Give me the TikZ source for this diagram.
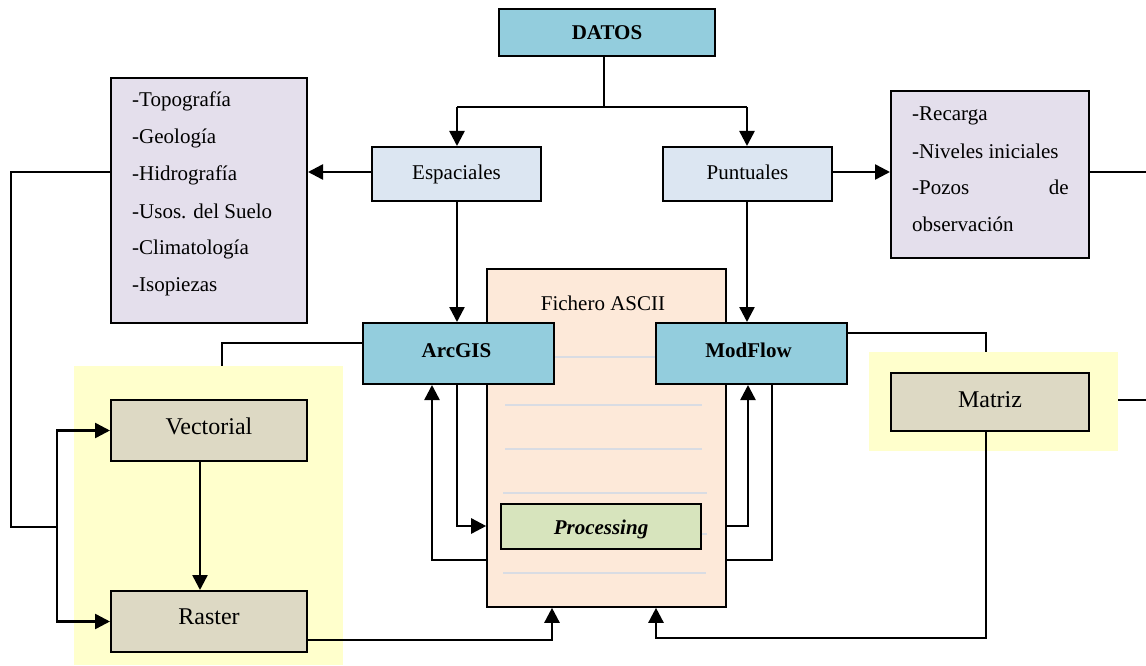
\documentclass[tikz,border=0pt]{standalone}
\usepackage{fontspec}
\setmainfont{Liberation Serif}
\usetikzlibrary{arrows.meta}
\definecolor{cblue}{HTML}{93CDDD}
\definecolor{clight}{HTML}{DCE6F2}
\definecolor{clav}{HTML}{E4DFEC}
\definecolor{cpeach}{HTML}{FDE9D9}
\definecolor{cgreen}{HTML}{D7E4BD}
\definecolor{ctan}{HTML}{DDD9C4}
\definecolor{cyel}{HTML}{FFFFCC}
\definecolor{cgray}{HTML}{D9DCE3}
\newcommand{\lift}[2]{\raisebox{#1}[\height][\depth]{#2}}
\tikzset{
  box/.style={draw=black, line width=2pt, inner sep=0pt},
  bgbox/.style={fill=cyel, inner sep=0pt, draw=none},
  bigbox/.style={box, fill=ctan, font=\fontsize{24}{28}\selectfont},
  ln/.style={line width=1.6pt},
  arr/.style={line width=2.5pt, -{Triangle[length=15pt,width=15pt]}},
  txt/.style={inner sep=0pt, anchor=base west},
}
\begin{document}
\begin{tikzpicture}[x=1pt,y=-1pt, font=\fontsize{21}{25}\selectfont]
\useasboundingbox (0,0) rectangle (1146,666);
% yellow backgrounds
\node[bgbox, minimum width=269pt, minimum height=299pt] (yelL) at (208.5,515.5) {};
\node[bgbox, minimum width=249pt, minimum height=99pt] (yelR) at (993.5,401.5) {};
% boxes
\node[box, fill=cblue, minimum width=216pt, minimum height=47pt, font=\fontsize{21}{25}\selectfont\bfseries] (datos) at (607,32.5) {DATOS};
\node[box, fill=clight, minimum width=169pt, minimum height=54pt] (esp) at (456.5,174) {\lift{0pt}{Espaciales}};
\node[box, fill=clight, minimum width=169pt, minimum height=54pt] (pun) at (747.5,174) {\lift{2pt}{Puntuales}};
\node[box, fill=clav, minimum width=196pt, minimum height=245pt] (listL) at (209,200.5) {};
\node[box, fill=clav, minimum width=198pt, minimum height=167pt] (listR) at (990,174.5) {};
\node[box, fill=cpeach, line width=1.6pt, minimum width=239pt, minimum height=338pt] (fich) at (606.5,438) {};
\node[inner sep=0pt] (fichT) at (603,303) {Fichero ASCII};
% gray lines inside the file
\foreach \yy/\xa/\xb in {357/505/700, 405/505/702, 449/505/702, 493/503/707, 534/503/707, 573/503/706}
  \draw[cgray, line width=1.5pt] (\xa,\yy) -- (\xb,\yy);
\node[box, fill=cblue, minimum width=191pt, minimum height=61pt, font=\fontsize{21}{25}\selectfont\bfseries] (arc) at (458.5,353.5) {\lift{3pt}{\hspace*{-4pt}ArcGIS}};
\node[box, fill=cblue, minimum width=191pt, minimum height=61pt, font=\fontsize{21}{25}\selectfont\bfseries] (mod) at (751.5,353.5) {\lift{3pt}{\hspace*{-6pt}ModFlow}};
\node[box, fill=cgreen, minimum width=200pt, minimum height=45pt, font=\fontsize{21}{25}\selectfont\bfseries\itshape] (proc) at (601,526.5) {\lift{-3pt}{Processing}};
\node[bigbox, minimum width=196pt, minimum height=61pt] (vec) at (209,430.5) {\lift{4pt}{Vectorial}};
\node[bigbox, minimum width=196pt, minimum height=61pt] (ras) at (209,621.5) {\lift{5pt}{Raster}};
\node[bigbox, minimum width=198pt, minimum height=58pt] (matriz) at (990,402) {\lift{2pt}{Matriz}};
% list texts
\foreach \yy/\tt [count=\i] in {107/-Topografía, 144/-Geología, 181/-Hidrografía, 218/-Usos. del Suelo, 254/-Climatología, 291/-Isopiezas}
  \node[txt] (l\i) at (132,\yy) {\tt};
\node[txt] (r1) at (912,121) {-Recarga};
\node[txt] (r2) at (912,158) {-Niveles iniciales};
\node[txt] (r3) at (912,194) {-Pozos};
\node[inner sep=0pt, anchor=base east] (r3b) at (1069,194) {de};
\node[txt] (r4) at (912,231) {observación};
% coordinates
\coordinate (j) at (604,107);
\coordinate (jv) at (57,527);
\coordinate (cl) at (11,527);
\coordinate (yl) at (222,366);
\coordinate (yr) at (986,352);
\coordinate (eR) at (1146,172);
\coordinate (eM) at (1146,400);
% connectors
\draw[ln] (datos.south -| j) -- (j);
\draw[ln] (j) -- (457,107);
\draw[ln] (j) -- (747,107);
\draw[arr] (457,107) -- (esp.north -| 457,0);
\draw[arr] (747,107) -- (pun.north -| 747,0);
\draw[arr] (esp.west |- 0,172) -- (listL.east |- 0,172);
\draw[arr] (pun.east |- 0,172) -- (listR.west |- 0,172);
\draw[ln] (listR.east |- 0,172) -- (eR);
\draw[ln] (listL.west |- 0,172) -| (cl) -- (jv);
\draw[arr] (jv) |- (vec.west);
\draw[arr] (jv) |- (ras.west);
\draw[ln] (57,431) -- (jv) -- (57,621.5);
\draw[arr] (vec.south -| 200,0) -- (ras.north -| 200,0);
\draw[arr] (esp.south -| 457,0) -- (arc.north -| 457,0);
\draw[arr] (pun.south -| 747,0) -- (mod.north -| 747,0);
\draw[ln] (arc.west |- 0,343) -| (yl);
\draw[ln] (mod.east |- 0,333) -| (yr);
\draw[line width=2.2pt] (yelR.east |- 0,400) -- (eM);
\draw[arr] (arc.south -| 457,0) |- (fich.west |- 0,526);
\draw[arr] (fich.west |- 0,560) -| (arc.south -| 432,0);
\draw[arr] (fich.east |- 0,526) -| (mod.south -| 748,0);
\draw[ln] (mod.south -| 772,0) |- (fich.east |- 0,560);
\draw[arr] (ras.east |- 0,640) -| (fich.south -| 552,0);
\draw[arr] (matriz.south -| 986,0) |- (656,638) -- (fich.south -| 656,0);
\end{tikzpicture}
\end{document}
